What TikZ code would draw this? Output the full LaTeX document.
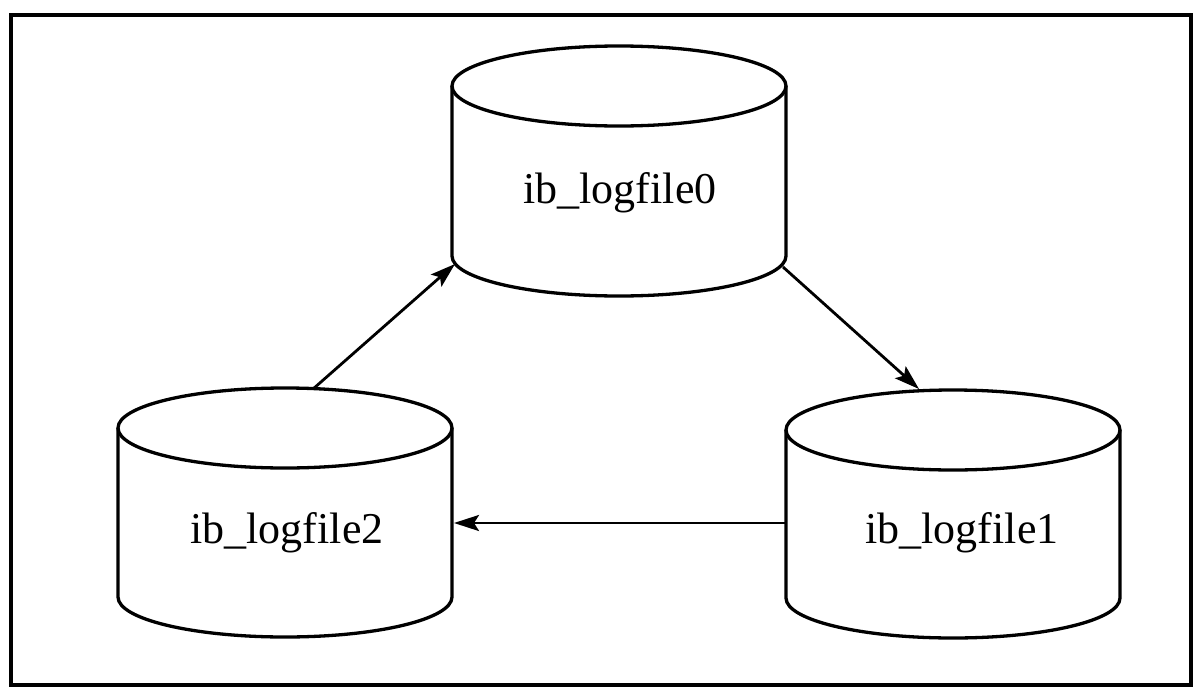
\documentclass[tikz,border=0pt]{standalone}
\usepackage{fontspec}
\setmainfont{Liberation Serif}
\usetikzlibrary{arrows.meta}
\begin{document}
\begin{tikzpicture}[x=1pt,y=-1pt,
  outline/.style={line width=3.3pt,line join=round},
  flow/.style={line width=2.8pt,-{Stealth[length=25pt,width=16pt,inset=5pt]}},
  tag/.style={font=\fontsize{44}{50}\selectfont,inner sep=0pt}]
  \useasboundingbox (0,0) rectangle (1195,699);
  % outer frame
  \draw[line width=3.2pt] (11,15) rectangle (1191,685);
  % cylinders: centre x, top ellipse y, bottom ellipse y, radii
  \foreach \cx/\yt/\yb in {619/86/256, 285/428/597, 953/430/598}{
    \draw[outline] (\cx-167,\yt) -- (\cx-167,\yb)
      arc[start angle=180,end angle=0,x radius=167,y radius=40]
      -- (\cx+167,\yt);
    \draw[outline] (\cx,\yt) ellipse[x radius=167,y radius=40];
  }
  % labels
  \node[tag] (log0) at (620,193) {ib\_logfile0};
  \node[tag] (log2) at (287,533) {ib\_logfile2};
  \node[tag] (log1) at (962,533) {ib\_logfile1};
  % connector end points on the cylinder outlines
  \coordinate (l2top) at (313,389);
  \coordinate (l0in)  at (455,264);
  \coordinate (l0out) at (783,267);
  \coordinate (l1top) at (919,389);
  \coordinate (l1in)  at (786,523);
  \coordinate (l2in)  at (454,523);
  \draw[flow] (l2top) -- (l0in);
  \draw[flow] (l0out) -- (l1top);
  \draw[flow] (l1in) -- (l2in);
\end{tikzpicture}
\end{document}
